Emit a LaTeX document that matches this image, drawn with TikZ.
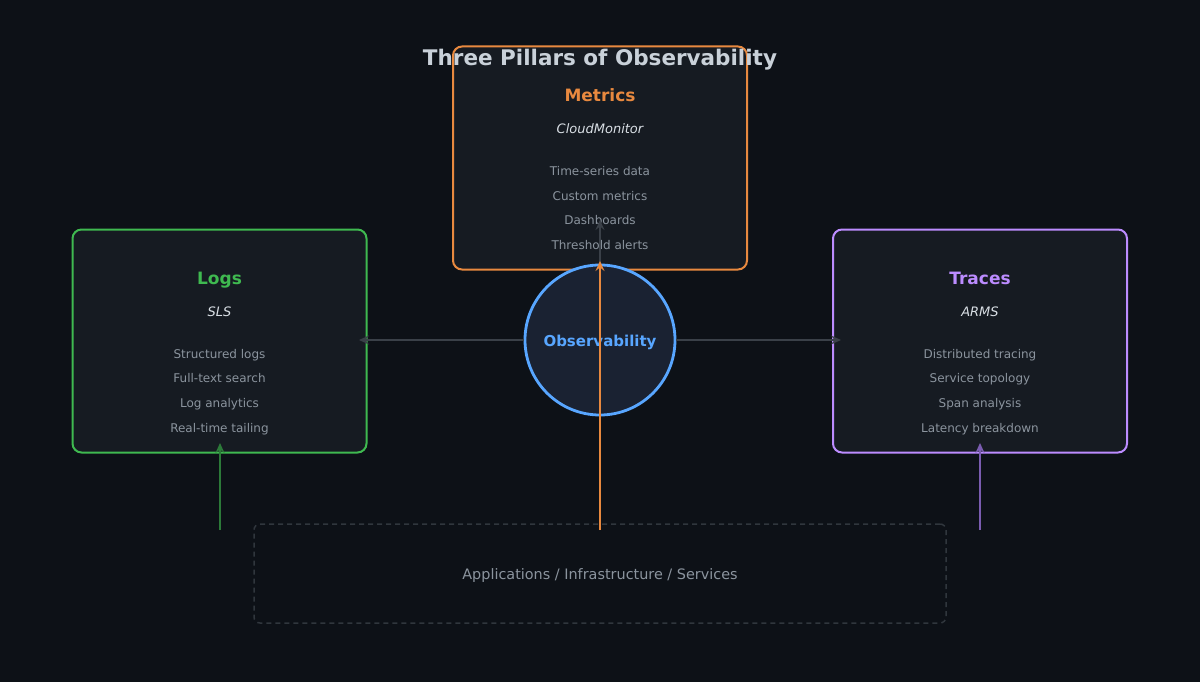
\documentclass[tikz,border=0pt]{standalone}
\usepackage{fontspec}
\setmainfont{DejaVu Sans}
\usetikzlibrary{arrows.meta}
\definecolor{bg}{HTML}{0D1117}
\definecolor{boxfill}{HTML}{161B22}
\definecolor{titlec}{HTML}{C9D1D9}
\definecolor{itemc}{HTML}{8B949E}
\definecolor{subc}{HTML}{D8DEE4}
\definecolor{orng}{HTML}{E8893F}
\definecolor{grn}{HTML}{3FB950}
\definecolor{prp}{HTML}{BC8CFF}
\definecolor{blu}{HTML}{58A6FF}
\definecolor{circfill}{HTML}{1A2232}
\definecolor{grayln}{HTML}{3A4048}
\definecolor{dashc}{HTML}{30363D}
\definecolor{grnd}{HTML}{2C7A39}
\definecolor{prpd}{HTML}{7A5CB0}
\tikzset{
  pillar/.style={draw, line width=2pt, fill=boxfill, rounded corners=9pt, minimum width=294pt, minimum height=223pt, inner sep=0pt},
  txt/.style={inner sep=0pt, text height=0.73em, text depth=0pt, yshift=-3pt},
  ptitle/.style={txt, font=\bfseries\fontsize{17}{20}\selectfont},
  psub/.style={txt, yshift=0.7pt, font=\itshape\fontsize{13}{16}\selectfont, text=subc},
  pitem/.style={txt, yshift=1.2pt, font=\fontsize{12}{14}\selectfont, text=itemc},
  arr/.style={line width=2pt, -{Stealth[length=10pt,width=9pt,inset=3.5pt]}},
}
\begin{document}
\begin{tikzpicture}[x=1pt,y=-1pt]
\fill[bg] (0,0) rectangle (1200,682);
\useasboundingbox (0,0) rectangle (1200,682);

% pillar boxes
\node[pillar, draw=orng] (metrics) at (600,158) {};
\node[pillar, draw=grn] (logs) at (219.5,341) {};
\node[pillar, draw=prp] (traces) at (980,341) {};

% title
\node[txt, font=\bfseries\fontsize{21.5}{24}\selectfont, text=titlec] (title) at (600,59) {Three Pillars of Observability};

% metrics text
\node[ptitle, text=orng] (mt) at (600,95) {Metrics};
\node[psub] (ms) at (600,128) {CloudMonitor};
\node[pitem] (m1) at (600,170) {Time-series data};
\node[pitem] (m2) at (600,195) {Custom metrics};
\node[pitem] (m3) at (600,219.5) {Dashboards};
\node[pitem] (m4) at (600,244) {Threshold alerts};

% logs text
\node[ptitle, text=grn] (lt) at (219.5,278) {Logs};
\node[psub] (ls) at (219.5,311) {SLS};
\node[pitem] (l1) at (219.5,353) {Structured logs};
\node[pitem] (l2) at (219.5,377.5) {Full-text search};
\node[pitem] (l3) at (219.5,402.5) {Log analytics};
\node[pitem] (l4) at (219.5,427) {Real-time tailing};

% traces text
\node[ptitle, text=prp] (tt) at (980,278) {Traces};
\node[psub] (ts) at (980,311) {ARMS};
\node[pitem] (t1) at (980,353) {Distributed tracing};
\node[pitem] (t2) at (980,377.5) {Service topology};
\node[pitem] (t3) at (980,402.5) {Span analysis};
\node[pitem] (t4) at (980,427) {Latency breakdown};

% center circle
\node[circle, draw=blu, line width=2.8pt, fill=circfill, minimum size=150pt, inner sep=0pt] (obs) at (600,340) {};
\node[txt, font=\bfseries\fontsize{15}{18}\selectfont, text=blu] (obst) at (600,339.5) {Observability};

% base layer
\node[draw=dashc, dashed, dash pattern=on 5pt off 4pt, line width=1.5pt, rounded corners=6pt,
      minimum width=692pt, minimum height=99pt, inner sep=0pt] (apps) at (600,573.5) {};
\node[txt, font=\fontsize{14.4}{17}\selectfont, text=itemc] (appst) at (600,572.5) {Applications / Infrastructure / Services};

% anchor coordinates
\coordinate (logsin) at (359,340);
\coordinate (tracesin) at (841,340);
\coordinate (metin) at (600,220);
\coordinate (metbot) at (600,261);
\coordinate (appsL) at (220,530);
\coordinate (appsC) at (600,530);
\coordinate (appsR) at (980,530);
\coordinate (logsbot) at (220,443);
\coordinate (tracesbot) at (980,443);

% connectors
\draw[arr, grayln] (obs.west) -- (logsin);
\draw[arr, grayln] (obs.east) -- (tracesin);
\draw[arr, grayln] (obs.north) -- (metin);
\draw[arr, orng] (appsC) -- (metbot);
\draw[arr, grnd] (appsL) -- (logsbot);
\draw[arr, prpd] (appsR) -- (tracesbot);
\end{tikzpicture}
\end{document}
